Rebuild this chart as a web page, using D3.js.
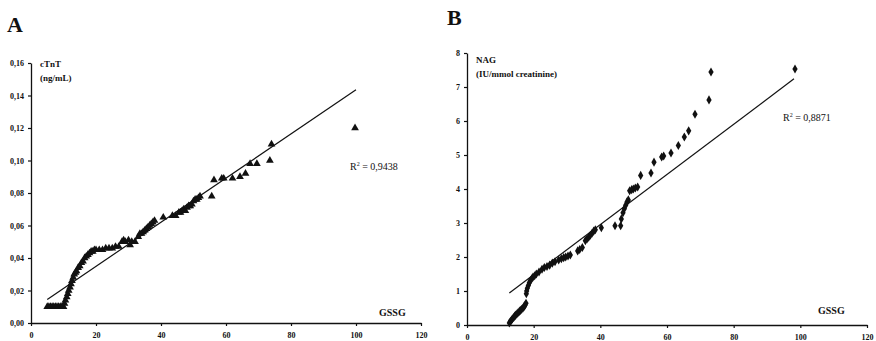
<!DOCTYPE html>
<html>
<head>
<meta charset="utf-8">
<style>
  body { margin: 0; background: #fff; }
  svg { display: block; }
  .axis .domain { stroke: #111; stroke-width: 1.3px; }
  .axis .tick line { stroke: #111; stroke-width: 1.2px; }
  .axis .tick text { font-family: 'Liberation Serif', 'Times New Roman', serif; font-weight: bold; font-size: 8px; fill: #111; }
  .lbl { font-family: 'Liberation Serif', 'Times New Roman', serif; font-weight: bold; fill: #111; }
</style>
</head>
<body>
<svg width="876" height="341"></svg>
<script src="https://d3js.org/d3.v7.min.js"></script>
<script>
// panel A: cTnT vs GSSG
let gssgA = [5, 5.5, 6, 6.5, 7, 7.5, 8, 8.5, 9, 9.5, 10, 10.3, 10.6, 11, 11.3, 11.6, 12, 12.3, 12.6, 13,
  13.3, 13.7, 14, 14.5, 15, 15.5, 16, 16.5, 17, 17.5, 18, 18.5, 19, 19.5, 20, 21, 22, 23, 24, 25,
  26, 27, 28, 28.5, 29, 30, 30.5, 31, 32, 33, 33.5, 34, 34.5, 35, 35.5, 36, 36.5, 37, 37.5, 38,
  40.7, 43.5, 44.5, 45.5, 46, 46.5, 47, 47.5, 48, 48.5, 49, 49.5, 50, 50.5, 51, 51.5, 52, 55.6, 56.3, 58.7,
  59.3, 62, 64.3, 66, 67.4, 69.5, 73.5, 74, 99.7]
let cTnT = [0.010, 0.010, 0.010, 0.010, 0.010, 0.010, 0.010, 0.010, 0.010, 0.010, 0.010, 0.012, 0.014, 0.016, 0.018, 0.020, 0.022, 0.024, 0.026, 0.028,
  0.030, 0.031, 0.032, 0.034, 0.035, 0.037, 0.038, 0.040, 0.041, 0.042, 0.043, 0.044, 0.044, 0.045, 0.045, 0.045, 0.045, 0.046, 0.046, 0.046,
  0.047, 0.047, 0.050, 0.051, 0.050, 0.051, 0.048, 0.050, 0.050, 0.053, 0.055, 0.055, 0.056, 0.057, 0.058, 0.059, 0.060, 0.061, 0.062, 0.063,
  0.065, 0.066, 0.066, 0.068, 0.068, 0.069, 0.070, 0.069, 0.071, 0.072, 0.072, 0.073, 0.075, 0.076, 0.076, 0.077, 0.078, 0.078, 0.088, 0.089,
  0.089, 0.089, 0.090, 0.092, 0.098, 0.098, 0.100, 0.110, 0.120]
let fitA = [[5, 0.0145], [100, 0.1435]]
let yTicksA = ["0,00", "0,02", "0,04", "0,06", "0,08", "0,10", "0,12", "0,14", "0,16"]

// panel B: NAG vs GSSG
let gssgB = [12.7, 13.0, 13.3, 13.6, 14.0, 14.3, 14.6, 15.0, 15.3, 15.7, 16.0, 16.4, 16.8, 17.1, 17.4, 17.7,
  17.8, 17.9, 18.1, 18.4, 18.7, 19.0, 19.4, 19.8, 20.3, 20.8, 21.6, 22.5, 23.2, 24.0, 24.8, 25.6, 26.4, 27.5, 28.3, 29.0, 29.6, 30.3, 31.0,
  33.2, 33.8, 34.6, 35.5, 36.0, 36.5, 37.0, 37.5, 38.0, 38.5, 40.3, 44.4, 46.1, 46.3, 46.8, 47.2, 47.6, 48.0, 48.4, 48.8, 49.4, 49.9, 50.5, 51.2,
  52.1, 55.2, 56.1, 58.4, 59.0, 61.2, 63.4, 65.2, 66.5, 68.4, 72.6, 73.2, 98.4]
let nag = [0.06, 0.10, 0.14, 0.18, 0.22, 0.26, 0.29, 0.33, 0.36, 0.40, 0.43, 0.46, 0.50, 0.54, 0.58, 0.64,
  0.92, 1.00, 1.08, 1.16, 1.24, 1.30, 1.36, 1.41, 1.45, 1.50, 1.56, 1.64, 1.69, 1.72, 1.76, 1.82, 1.86, 1.91, 1.95, 1.98, 2.00, 2.03, 2.06,
  2.18, 2.22, 2.28, 2.48, 2.53, 2.58, 2.64, 2.70, 2.76, 2.80, 2.86, 2.92, 2.92, 3.12, 3.30, 3.42, 3.52, 3.62, 3.68, 3.95, 3.98, 4.00, 4.03, 4.06,
  4.40, 4.47, 4.79, 4.94, 4.97, 5.06, 5.28, 5.53, 5.71, 6.20, 6.62, 7.44, 7.53]
let fitB = [[12.7, 0.94], [98.1, 7.24]]
let yTicksB = ["0", "1", "2", "3", "4", "5", "6", "7", "8"]

let xTicks = ["0", "20", "40", "60", "80", "100", "120"]

let svg = d3.select("svg")

function panel(opt) {
  let g = svg.append("g")

  let x = d3.scaleLinear().domain([0, 120]).range(opt.xr)
  let y = d3.scaleLinear().domain(opt.yd).range(opt.yr)

  let yVals = opt.yTicks.map(t => +t.replace(",", "."))
  let xVals = xTicks.map(t => +t)

  g.append("g")
    .attr("class", "axis")
    .attr("transform", `translate(0,${opt.yr[0]})`)
    .call(d3.axisBottom(x).tickValues(xVals).tickSize(3).tickSizeOuter(0).tickPadding(6)
      .tickFormat((d, i) => xTicks[i]))

  g.append("g")
    .attr("class", "axis")
    .attr("transform", `translate(${opt.xr[0]},0)`)
    .call(d3.axisLeft(y).tickValues(yVals).tickSize(3).tickSizeOuter(0).tickPadding(4)
      .tickFormat((d, i) => opt.yTicks[i]))

  // regression line
  g.append("path")
    .datum(opt.fit)
    .attr("d", d3.line().x(d => x(d[0])).y(d => y(d[1])))
    .style("fill", "none")
    .style("stroke", "#111")
    .style("stroke-width", "1.2px")

  // data points
  let pts = opt.xs.map((v, i) => ({ x: v, y: opt.ys[i] }))
  g.append("g")
    .selectAll("path")
    .data(pts)
    .join("path")
    .attr("transform", d => `translate(${x(d.x)},${y(d.y)})`)
    .attr("d", d3.symbol().type(opt.symbol).size(opt.size))
    .style("fill", "#111")

  // texts
  g.append("text").attr("class", "lbl")
    .attr("x", opt.letter[1]).attr("y", opt.letter[2])
    .style("font-size", "22px").text(opt.letter[0])

  opt.yLabel.forEach((t, i) => {
    g.append("text").attr("class", "lbl")
      .attr("x", opt.xr[0] + 9).attr("y", opt.yLabelY + i * 14)
      .style("font-size", "9px").text(t)
  })

  let r2 = g.append("text").attr("class", "lbl")
    .attr("x", opt.r2[1]).attr("y", opt.r2[2])
    .style("font-size", "10px").style("font-weight", "normal")
  r2.append("tspan").text("R")
  r2.append("tspan").attr("dy", -4).style("font-size", "6px").text("2")
  r2.append("tspan").attr("dy", 4).text(" = " + opt.r2[0])

  g.append("text").attr("class", "lbl")
    .attr("x", opt.gssg[0]).attr("y", opt.gssg[1])
    .style("font-size", "10px").text("GSSG")
}

panel({
  xr: [31, 421], yr: [323, 63], yd: [0, 0.16],
  yTicks: yTicksA, xs: gssgA, ys: cTnT, fit: fitA,
  symbol: d3.symbolTriangle, size: 26,
  letter: ["A", 7, 32],
  yLabel: ["cTnT", "(ng/mL)"], yLabelY: 67,
  r2: ["0,9438", 350, 170],
  gssg: [379, 316]
})

panel({
  xr: [467, 867], yr: [325, 53], yd: [0, 8],
  yTicks: yTicksB, xs: gssgB, ys: nag, fit: fitB,
  symbol: d3.symbolDiamond, size: 24,
  letter: ["B", 447, 25],
  yLabel: ["NAG", "(IU/mmol creatinine)"], yLabelY: 63,
  r2: ["0,8871", 783, 121],
  gssg: [818, 314]
})
</script>
</body>
</html>
